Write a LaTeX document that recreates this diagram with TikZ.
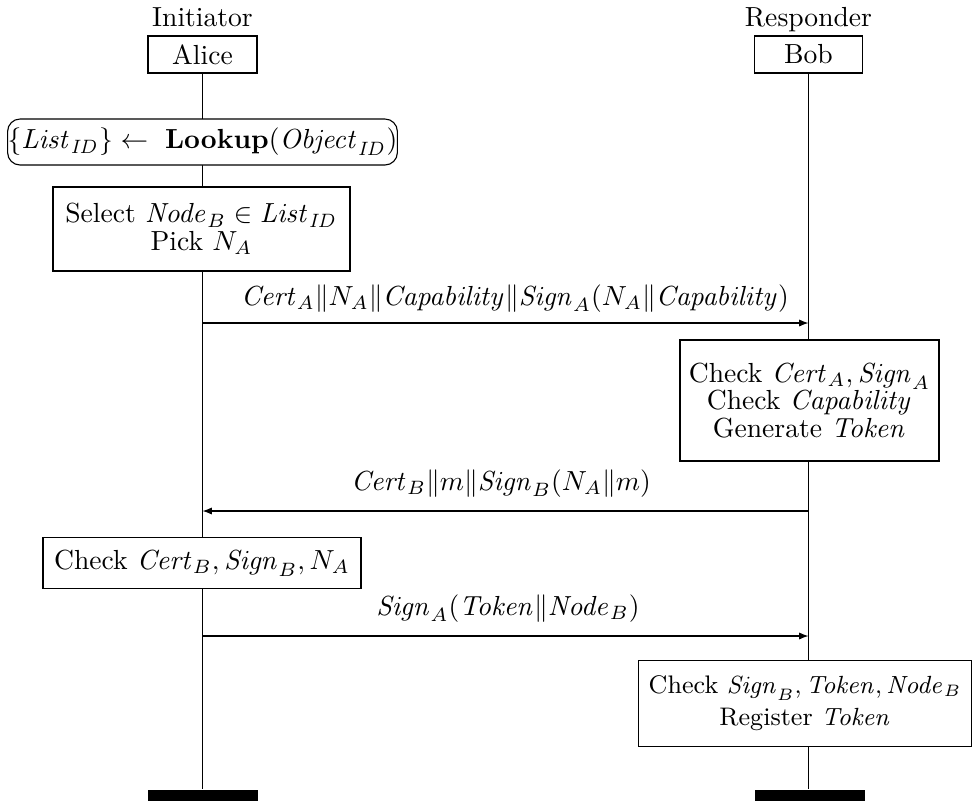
\documentclass[tikz,border=0pt]{standalone}
\usetikzlibrary{arrows.meta,backgrounds}
\begin{document}
\begin{tikzpicture}[x=0.3623pt,y=-0.3623pt,
  font=\fontsize{10}{10}\selectfont,
  sized/.style 2 args={minimum width=#1*0.3623pt, minimum height=#2*0.3623pt},
  box/.style={draw, line width=0.4pt, inner sep=0pt, align=center, fill=white},
  rbox/.style={box, rounded corners=4.5pt},
  lbl/.style={anchor=base, inner sep=0pt},
  msg/.style={-{Latex[length=3.4pt,width=2.6pt]}, line width=0.4pt},
  lifeline/.style={line width=0.4pt},
  endbar/.style={fill=black, draw=none, inner sep=0pt, sized={110}{11}}]
\useasboundingbox (0,0) rectangle (973,805);

% headers
\node[lbl] (initr) at (202.5,26) {Initiator};
\node[lbl] (respr) at (808.5,26) {Responder};
\node[box, sized={109}{37}] (alice) at (202.5,54.5) {Alice};
\node[box, sized={108}{37}] (bob) at (808.5,54.5) {Bob};

% Alice side
\node[rbox, sized={389}{46}] (lookup) at (202.5,142)
  {$\{\mathit{List}_{\mathit{ID}}\}\leftarrow\ \textbf{Lookup}(\mathit{Object}_{\mathit{ID}})$};
\node[box, sized={297}{84}] (select) at (201.5,229)
  {Select $\mathit{Node}_B\in \mathit{List}_{\mathit{ID}}$\\ Pick $N_A$};

% message 1
\coordinate (m1a) at (202.5,323);
\coordinate (m1b) at (808.5,323);
\draw[msg] (m1a) -- (m1b);
\node[lbl] (l1) at (515,305)
  {$\mathit{Cert}_A\|N_A\|\mathit{Capability}\|\mathit{Sign}_A(N_A\|\mathit{Capability})$};

% Bob checks
\node[box, sized={259}{121}] (bcheck) at (809.5,400.5)
  {Check $\mathit{Cert}_A,\mathit{Sign}_A$\\ Check $\mathit{Capability}$\\ Generate $\mathit{Token}$};

% message 2
\coordinate (m2a) at (808.5,511);
\coordinate (m2b) at (202.5,511);
\draw[msg] (m2a) -- (m2b);
\node[lbl] (l2) at (501,490)
  {$\mathit{Cert}_B\|m\|\mathit{Sign}_B(N_A\|m)$};

% Alice checks
\node[box, sized={318}{51}] (acheck) at (202,563)
  {Check $\mathit{Cert}_B,\mathit{Sign}_B,N_A$};

% message 3
\coordinate (m3a) at (202.5,636);
\coordinate (m3b) at (808.5,636);
\draw[msg] (m3a) -- (m3b);
\node[lbl] (l3) at (508,615)
  {$\mathit{Sign}_A(\mathit{Token}\|\mathit{Node}_B)$};

% Bob registers
\node[box, sized={333}{86}, font=\fontsize{9.2}{11.5}\selectfont] (breg) at (805,703.5)
  {Check $\mathit{Sign}_B,\mathit{Token},\mathit{Node}_B$\\ Register $\mathit{Token}$};

% end bars
\node[endbar] (aend) at (203,795.5) {};
\node[endbar] (bend) at (810,795.5) {};

% lifelines
\begin{scope}[on background layer]
\draw[lifeline] (alice.south) -- (alice.south |- aend.north);
\draw[lifeline] (bob.south) -- (bob.south |- bend.north);
\end{scope}
\end{tikzpicture}
\end{document}
